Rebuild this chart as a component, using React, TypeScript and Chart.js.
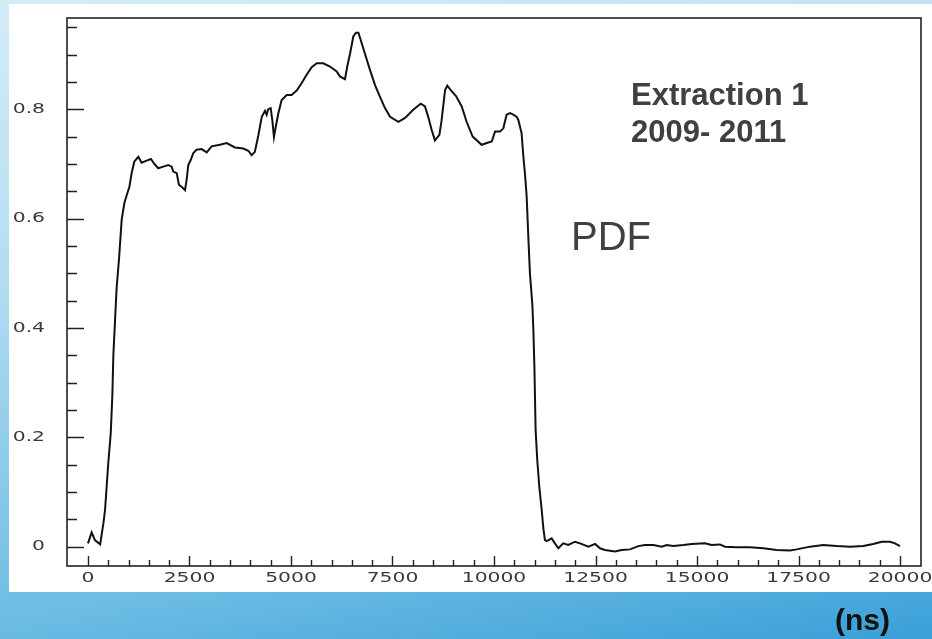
import React, { useEffect, useRef } from "react";
import { Chart, registerables } from "chart.js";

Chart.register(...registerables);

// Time (ns)
const xValues = [
  0, 90, 170, 300, 380, 420, 500, 560, 600, 625, 665, 705, 765, 830, 895, 955, 1020, 1075, 1140, 1240,
  1320, 1445, 1550, 1625, 1730, 1855, 1980, 2060, 2100, 2185, 2240, 2305, 2390, 2430, 2470, 2530, 2595,
  2675, 2800, 2925, 3045, 3250, 3415, 3620, 3825, 3950, 4030, 4110, 4195, 4280, 4360, 4400, 4440, 4500,
  4540, 4580, 4625, 4690, 4770, 4895, 5015, 5140, 5265, 5385, 5510, 5635, 5795, 5960, 6125, 6205, 6330,
  6385, 6455, 6535, 6600, 6660, 6715, 6820, 6945, 7070, 7190, 7315, 7440, 7645, 7810, 8010, 8195, 8300,
  8380, 8465, 8545, 8655, 8710, 8795, 8850, 8935, 9065, 9205, 9325, 9475, 9695, 9860, 9945, 10025, 10150,
  10230, 10310, 10395, 10475, 10560, 10600, 10680, 10720, 10765, 10805, 10845, 10885, 10945, 10970, 10995,
  11025, 11065, 11115, 11175, 11215, 11255, 11300, 11420, 11500, 11585, 11705, 11830, 11995, 12120, 12325,
  12490, 12610, 12735, 12980, 13145, 13350, 13555, 13720, 13925, 14130, 14255, 14415, 14665, 14870, 15195,
  15360, 15565, 15690, 15975, 16305, 16635, 16960, 17290, 17455, 17785, 18110, 18440, 18770, 19095, 19340,
  19550, 19755, 19875, 20000,
];

// PDF value
const yValues = [
  0.006, 0.026, 0.012, 0.004, 0.043, 0.067, 0.153, 0.207, 0.277, 0.351, 0.412, 0.473, 0.527, 0.598, 0.628,
  0.643, 0.658, 0.683, 0.704, 0.713, 0.702, 0.706, 0.709, 0.701, 0.692, 0.695, 0.698, 0.695, 0.686, 0.683,
  0.662, 0.658, 0.652, 0.671, 0.698, 0.707, 0.72, 0.726, 0.727, 0.721, 0.732, 0.735, 0.738, 0.73, 0.728,
  0.724, 0.716, 0.722, 0.752, 0.786, 0.797, 0.79, 0.8, 0.802, 0.78, 0.749, 0.768, 0.793, 0.817, 0.826,
  0.826, 0.834, 0.848, 0.863, 0.877, 0.884, 0.884, 0.878, 0.869, 0.86, 0.855, 0.878, 0.902, 0.933, 0.94,
  0.94, 0.927, 0.902, 0.872, 0.844, 0.823, 0.802, 0.786, 0.777, 0.784, 0.799, 0.81, 0.805, 0.786, 0.762,
  0.743, 0.753, 0.78, 0.835, 0.843, 0.835, 0.824, 0.805, 0.777, 0.75, 0.735, 0.739, 0.741, 0.759, 0.759,
  0.765, 0.79, 0.793, 0.79, 0.786, 0.78, 0.756, 0.716, 0.68, 0.64, 0.567, 0.5, 0.442, 0.396, 0.329, 0.213,
  0.159, 0.11, 0.067, 0.034, 0.012, 0.01, 0.015, 0.006, -0.003, 0.006, 0.003, 0.009, 0.006, 0.0, 0.005,
  -0.003, -0.006, -0.009, -0.006, -0.005, 0.001, 0.003, 0.003, 0.0, 0.003, 0.001, 0.003, 0.005, 0.006,
  0.003, 0.004, 0.0, -0.001, -0.001, -0.003, -0.006, -0.007, -0.005, 0.0, 0.003, 0.001, 0.0, 0.001, 0.005,
  0.009, 0.009, 0.006, 0.001,
];

const xTickValues = [0, 2500, 5000, 7500, 10000, 12500, 15000, 17500, 20000];
const xTickLabels = ["0", "2500", "5000", "7500", "10000", "12500", "15000", "17500", "20000"];
const yTickValues = [0, 0.2, 0.4, 0.6, 0.8];
const yTickLabels = ["0", "0.2", "0.4", "0.6", "0.8"];

const annotationLines = ["Extraction 1", "2009- 2011"];
const annotationLabel = "PDF";
const unitLabel = "(ns)";

const framePlugin = {
  id: "framePlugin",
  afterDraw(chart: any) {
    const { ctx, chartArea } = chart;
    const { left, top, right, bottom } = chartArea;
    const xs = chart.scales.x;
    const ys = chart.scales.y;
    ctx.save();
    // frame
    ctx.strokeStyle = "#222";
    ctx.lineWidth = 1.6;
    ctx.strokeRect(left, top, right - left, bottom - top);
    // x ticks (inside)
    ctx.lineWidth = 1.4;
    ctx.beginPath();
    for (let v = 0; v <= 20000; v += 500) {
      const px = Math.round(xs.getPixelForValue(v)) + 0.5;
      const len = v % 2500 === 0 ? 10 : 6;
      ctx.moveTo(px, bottom);
      ctx.lineTo(px, bottom - len);
    }
    // y ticks (inside)
    for (let i = 0; i <= 19; i++) {
      const v = i * 0.05;
      const py = Math.round(ys.getPixelForValue(v)) + 0.5;
      const len = i % 4 === 0 ? 17 : 10;
      ctx.moveTo(left, py);
      ctx.lineTo(left + len, py);
    }
    ctx.stroke();

    // tick labels (wide, thin vector-like font)
    const sx = 1.45;
    ctx.fillStyle = "#3a3a3a";
    ctx.font = "14px 'DejaVu Sans'";
    ctx.textBaseline = "middle";
    xTickValues.forEach((v, i) => {
      const px = xs.getPixelForValue(v);
      const w = ctx.measureText(xTickLabels[i]).width * sx;
      ctx.save();
      ctx.translate(px - w / 2, 578);
      ctx.scale(sx, 1);
      ctx.textAlign = "left";
      ctx.fillText(xTickLabels[i], 0, 0);
      ctx.restore();
    });
    yTickValues.forEach((v, i) => {
      const py = ys.getPixelForValue(v);
      const w = ctx.measureText(yTickLabels[i]).width * sx;
      ctx.save();
      ctx.translate(45 - w, py);
      ctx.scale(sx, 1);
      ctx.textAlign = "left";
      ctx.fillText(yTickLabels[i], 0, 0);
      ctx.restore();
    });

    // annotations
    ctx.textAlign = "left";
    ctx.textBaseline = "alphabetic";
    ctx.fillStyle = "#404040";
    ctx.font = "bold 31px 'Liberation Sans', Arial, sans-serif";
    ctx.fillText(annotationLines[0], 631, 105);
    ctx.fillText(annotationLines[1], 631, 141.5);
    ctx.font = "40px 'Liberation Sans', Arial, sans-serif";
    ctx.fillText(annotationLabel, 571, 250);
    ctx.fillStyle = "#111";
    ctx.font = "bold 30px 'Liberation Sans', Arial, sans-serif";
    ctx.fillText(unitLabel, 835, 630);
    ctx.restore();
  },
};

export default function App() {
  const canvasRef = useRef<HTMLCanvasElement | null>(null);

  useEffect(() => {
    if (!canvasRef.current) return;
    const chart = new Chart(canvasRef.current, {
      type: "line",
      data: {
        datasets: [
          {
            data: xValues.map((x, i) => ({ x, y: yValues[i] })),
            borderColor: "#111",
            borderWidth: 2,
            pointRadius: 0,
            tension: 0,
            fill: false,
          },
        ],
      },
      options: {
        animation: false,
        responsive: false,
        devicePixelRatio: 1,
        layout: { padding: { left: 67, top: 18, right: 11, bottom: 73 } },
        plugins: { legend: { display: false }, tooltip: { enabled: false } },
        scales: {
          x: { type: "linear", min: -517, max: 20517, display: false },
          y: { type: "linear", min: -0.0354, max: 0.9668, display: false },
        },
      },
      plugins: [framePlugin],
    });
    return () => chart.destroy();
  }, []);

  return (
    <div
      style={{
        position: "absolute",
        left: 0,
        top: 0,
        width: 932,
        height: 639,
        overflow: "hidden",
        background:
          "linear-gradient(170deg, #d3ecf8 0%, #b3ddf2 35%, #6cbce4 78%, #3a9fd8 100%)",
      }}
    >
      <div
        style={{
          position: "absolute",
          left: 9,
          top: 4,
          width: 923,
          height: 588,
          background: "#fff",
        }}
      />
      <canvas
        ref={canvasRef}
        width={932}
        height={639}
        style={{ position: "absolute", left: 0, top: 0, width: 932, height: 639 }}
      />
    </div>
  );
}
